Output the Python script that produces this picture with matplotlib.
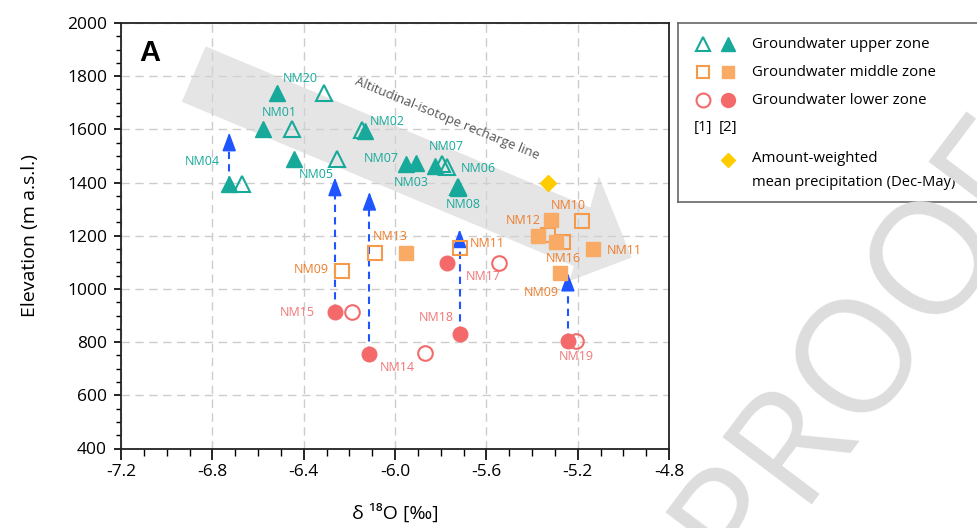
import matplotlib.pyplot as plt
from matplotlib.patches import Polygon
from matplotlib.ticker import MultipleLocator

plt.rcParams['font.family'] = ['Open Sans', 'DejaVu Sans']

# data
upper_open_x = [-6.310, -6.449, -6.144, -6.671, -6.256, -5.795, -5.772, -5.722]
upper_open_y = [1736, 1603, 1597, 1396, 1490, 1470, 1460, 1384]
upper_filled_x = [-6.517, -6.580, -6.133, -6.726, -6.444, -5.951, -5.907, -5.825, -5.725]
upper_filled_y = [1736, 1601, 1594, 1396, 1490, 1469, 1472, 1463, 1381]

middle_open_x = [-6.234, -6.086, -5.717, -5.179, -5.330, -5.264]
middle_open_y = [1067, 1136, 1153, 1255, 1202, 1176]
middle_filled_x = [-5.954, -5.315, -5.374, -5.293, -5.133, -5.279]
middle_filled_y = [1136, 1259, 1199, 1176, 1151, 1061]

lower_open_x = [-6.190, -5.867, -5.546, -5.206]
lower_open_y = [913, 760, 1099, 806]
lower_filled_x = [-6.263, -6.112, -5.771, -5.717, -5.243]
lower_filled_y = [913, 756, 1099, 831, 806]

precip_x = [-5.33]
precip_y = [1400]

# shift arrows: x, start elevation, arrow tip elevation
arrow_x = [-6.726, -6.263, -6.112, -5.717, -5.243]
arrow_from = [1396, 913, 756, 831, 806]
arrow_to = [1588, 1419, 1365, 1224, 1061]

# sample labels
upper_labels = [('NM20', -6.416, 1792), ('NM01', -6.507, 1664), ('NM02', -6.032, 1630),
                ('NM04', -6.843, 1478), ('NM05', -6.346, 1431), ('NM07', -6.061, 1490),
                ('NM03', -5.929, 1402), ('NM07', -5.776, 1534), ('NM06', -5.637, 1454),
                ('NM08', -5.699, 1316)]
middle_labels = [('NM13', -6.021, 1197), ('NM09', -6.368, 1074), ('NM11', -5.596, 1171),
                 ('NM10', -5.243, 1315), ('NM12', -5.440, 1259), ('NM16', -5.264, 1115),
                 ('NM11', -4.994, 1146), ('NM09', -5.359, 986)]
lower_labels = [('NM15', -6.427, 910), ('NM14', -5.991, 703), ('NM17', -5.615, 1046),
                ('NM18', -5.820, 894), ('NM19', -5.206, 747)]

# recharge line band (gray arrow)
band_x = [-6.829, -5.145, -5.107, -4.964, -5.235, -5.217, -6.934]
band_y = [1912, 1306, 1423, 1118, 1030, 1086, 1704]

teal = '#17a99a'
orange = '#f9ab66'
orange_edge = '#f5994a'
orange_text = '#ee7d2b'
pink = '#f46a6a'
pink_text = '#f27676'
blue = '#1f55ff'

fig = plt.figure(figsize=(9.78, 5.28), dpi=100)
ax = fig.add_axes([121 / 978, 79.5 / 528, 548 / 978, 425.5 / 528])

ax.set_xlim(-7.2, -4.8)
ax.set_ylim(400, 2000)
ax.xaxis.set_major_locator(MultipleLocator(0.4))
ax.xaxis.set_minor_locator(MultipleLocator(0.1))
ax.yaxis.set_major_locator(MultipleLocator(200))
ax.yaxis.set_minor_locator(MultipleLocator(50))
ax.xaxis.set_major_formatter(lambda v, p: f'{v:.1f}')
ax.tick_params(axis='x', which='major', length=8, width=1.2, labelsize=12.5, direction='out')
ax.tick_params(axis='x', which='minor', length=5, width=1.0, direction='out')
ax.tick_params(axis='y', which='major', length=5, width=1.2, labelsize=12.5, direction='out', pad=5)
ax.tick_params(axis='y', which='minor', length=3.5, width=1.0, direction='out')
for s in ax.spines.values():
    s.set_linewidth(1.3)
    s.set_color('#222222')
ax.grid(True, which='major', color='#cccccc', linestyle=(0, (6, 4)), linewidth=1.0)
ax.set_axisbelow(True)

ax.add_patch(Polygon(list(zip(band_x, band_y)), closed=True, facecolor='#d4d4d4',
                     edgecolor='none', alpha=0.6, zorder=1.5))
ax.text(-5.77, 1642, 'Altitudinal-isotope recharge line', rotation=-22.3,
        rotation_mode='anchor', ha='center', va='center', fontsize=9.5, color='#555555')

# dashed shift arrows
for x, y0, y1 in zip(arrow_x, arrow_from, arrow_to):
    ax.plot([x, x], [y0, y1 - 45], color=blue, linestyle=(0, (3.5, 2.5)), lw=1.5, zorder=2)
    ax.annotate('', xy=(x, y1), xytext=(x, y1 - 60),
                arrowprops=dict(arrowstyle='-|>,head_length=0.75,head_width=0.28',
                                color=blue, lw=1.2, mutation_scale=15, shrinkA=0, shrinkB=0),
                zorder=3)

ax.plot(upper_open_x, upper_open_y, '^', ms=11, mfc='none', mec=teal, mew=1.5, zorder=4)
ax.plot(upper_filled_x, upper_filled_y, '^', ms=11, color=teal, zorder=5)
ax.plot(middle_open_x, middle_open_y, 's', ms=10, mfc='none', mec=orange_edge, mew=1.5, zorder=4)
ax.plot(middle_filled_x, middle_filled_y, 's', ms=10, color=orange, zorder=5)
ax.plot(lower_open_x, lower_open_y, 'o', ms=10.5, mfc='none', mec=pink, mew=1.5, zorder=4)
ax.plot(lower_filled_x, lower_filled_y, 'o', ms=10.5, color=pink, zorder=5)
ax.plot(precip_x, precip_y, 'D', ms=8.5, color='#ffcc00', zorder=5)

for labels, c in [(upper_labels, teal), (middle_labels, orange_text), (lower_labels, pink_text)]:
    for name, x, y in labels:
        ax.text(x, y, name, color=c, fontsize=9, ha='center', va='center', zorder=6)

ax.text(0.053, 0.93, 'A', transform=ax.transAxes, fontsize=21, fontweight='bold',
        family='Liberation Sans', ha='center', va='center')

ax.set_xlabel('δ ¹⁸O [‰]', fontsize=14)
ax.set_ylabel('Elevation (m a.s.l.)', fontsize=14)
ax.xaxis.set_label_coords(0.5, -0.13)
ax.yaxis.set_label_coords(-0.15, 0.5)

# legend panel, drawn in pixel units
lax = fig.add_axes([678 / 978, (528 - 202) / 528, 489 / 978, 179.3 / 528])
lax.set_xlim(678, 1167)
lax.set_ylim(202, 22.7)
lax.set_xticks([])
lax.set_yticks([])
lax.patch.set_facecolor('white')
for k, s in lax.spines.items():
    s.set_color('#666666')
    s.set_linewidth(1.2)
lax.spines['right'].set_visible(False)

mx_open, mx_fill, tx = 702.7, 728.3, 751.7
rows = [('^', teal, teal, 'Groundwater upper zone', 44, 10),
        ('s', orange, orange_edge, 'Groundwater middle zone', 72, 8.5),
        ('o', pink, pink, 'Groundwater lower zone', 100, 10)]
for m, fc, ec, lab, y, ms in rows:
    lax.plot([mx_open], [y], m, ms=ms, mfc='none', mec=ec, mew=1.5)
    lax.plot([mx_fill], [y], m, ms=ms, color=fc)
    lax.text(tx, y, lab, fontsize=10.8, va='center', ha='left')
lax.text(mx_open, 128, '[1]', fontsize=10.8, va='center', ha='center')
lax.text(mx_fill, 128, '[2]', fontsize=10.8, va='center', ha='center')
lax.plot([mx_fill], [160], 'D', ms=7, color='#ffcc00')
lax.text(tx, 158, 'Amount-weighted', fontsize=10.8, va='center', ha='left')
lax.text(tx, 182, 'mean precipitation (Dec-May)', fontsize=10.6, va='center', ha='left')

# watermark
fig.text(864 / 978, 1 - 347 / 528, 'PROOF', fontsize=114, color='#dddddd', rotation=53,
         ha='center', va='center', family='Open Sans', zorder=10)

fig.savefig('out.png', dpi=100)
